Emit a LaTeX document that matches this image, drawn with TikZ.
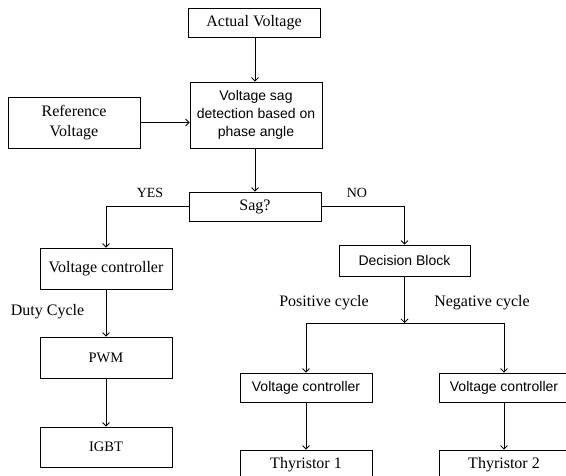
\documentclass[tikz,border=0pt]{standalone}
\usepackage{fontspec}
\setmainfont{Liberation Serif}
\setsansfont{Liberation Sans}
\usetikzlibrary{arrows.meta}
\tikzset{
  box/.style={draw, line width=0.8pt, inner sep=0pt, align=center, minimum width=132pt},
  serif16/.style={font=\fontsize{16}{20}\selectfont},
  serif14/.style={font=\fontsize{14.5}{18}\selectfont},
  sans14/.style={font=\sffamily\fontsize{14}{18}\selectfont},
  lbl/.style={inner sep=0pt},
  arr/.style={line width=0.8pt, -{Straight Barb[length=3.5pt,width=7pt]}},
  ln/.style={line width=0.8pt}
}
\begin{document}
\begin{tikzpicture}[x=1pt,y=-1pt]
\useasboundingbox (0,0) rectangle (566,476);
\clip (0,0) rectangle (566,476);
\fill[white] (0,0) rectangle (566,476);
% nodes
\node[box, serif16, minimum height=29pt] (act) at (254,22.5) {Actual Voltage};
\node[box, sans14, minimum height=66pt] (det) at (256,115) {Voltage sag\\detection based on\\phase angle};
\node[box, serif16, minimum height=51pt] (ref) at (74,122.5) {Reference\\Voltage};
\node[box, serif16, minimum height=29pt] (sag) at (255,206.5) {Sag?};
\node[box, serif16, minimum height=41pt] (vcl) at (106,268.5) {Voltage controller};
\node[box, serif14, minimum height=41pt] (pwm) at (106,357.5) {PWM};
\node[box, serif14, minimum height=40pt] (igbt) at (106,447) {IGBT};
\node[box, sans14, minimum width=131pt, minimum height=31pt] (dec) at (404.5,260.5) {Decision Block};
\node[box, sans14, minimum height=29pt] (vca) at (306,387.5) {Voltage controller};
\node[box, sans14, minimum width=130pt, minimum height=29pt] (vcb) at (504,387.5) {Voltage controller};
\node[box, serif16, minimum height=30pt] (tha) at (306,465) {Thyristor 1};
\node[box, serif16, minimum width=130pt, minimum height=30pt] (thb) at (504,465) {Thyristor 2};
% labels
\node[lbl, font=\fontsize{14}{16}\selectfont] (yes) at (150,193) {YES};
\node[lbl, font=\fontsize{14}{16}\selectfont] (no) at (357,193) {NO};
\node[lbl, serif16] (duty) at (47.5,312) {Duty Cycle};
\node[lbl, serif16] (pos) at (324,303) {Positive cycle};
\node[lbl, serif16] (neg) at (482,303) {Negative cycle};
\coordinate (j) at (404.5,323);
% connectors
\draw[arr] (act.south -| 255,0) -- (det.north -| 255,0);
\draw[arr] (ref.east) -- (ref.east -| det.west);
\draw[arr] (det.south -| 255,0) -- (sag.north -| 255,0);
\draw[arr] (sag.west) -| (vcl.north);
\draw[arr] (sag.east) -| (dec.north);
\draw[arr] (vcl.south) -- (pwm.north);
\draw[arr] (pwm.south) -- (igbt.north);
\draw[arr] (dec.south) -- (j);
\draw[arr] (j) -| (vca.north);
\draw[arr] (j) -| (vcb.north);
\draw[arr] (vca.south) -- (tha.north);
\draw[arr] (vcb.south) -- (thb.north);
\end{tikzpicture}
\end{document}
